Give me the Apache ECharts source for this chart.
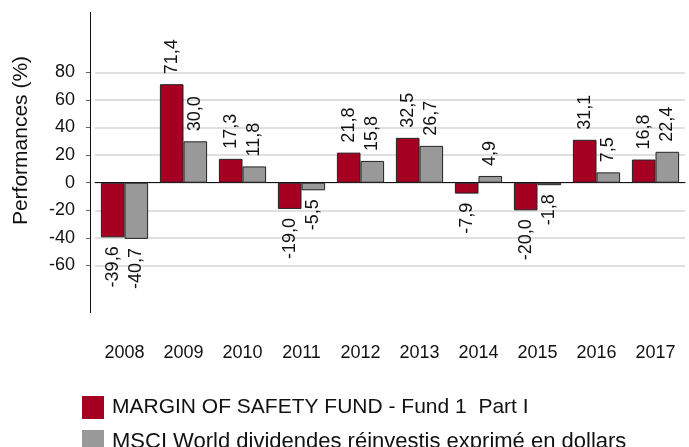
<!DOCTYPE html>
<html>
<head>
    <meta charset="UTF-8">
    <title></title>
    <script type="text/javascript" src="https://cdn.jsdelivr.net/npm/echarts@6/dist/echarts.min.js"></script>
    <style>
        html, body { margin: 0; padding: 0; background: #fff; }
        #main { width: 689px; height: 447px; }
    </style>
</head>
<body>
<div id="main"></div>
<script>
    var years = ['2008', '2009', '2010', '2011', '2012', '2013', '2014', '2015', '2016', '2017'];
    var fundValues = [-39.6, 71.4, 17.3, -19.0, 21.8, 32.5, -7.9, -20.0, 31.1, 16.8];
    var msciValues = [-40.7, 30.0, 11.8, -5.5, 15.8, 26.7, 4.9, -1.8, 7.5, 22.4];
    var yTicks = [-60, -40, -20, 0, 20, 40, 60, 80];
    var fundName = 'MARGIN OF SAFETY FUND - Fund 1  Part I';
    var msciName = 'MSCI World dividendes réinvestis exprimé en dollars';

    var font = 'Liberation Sans, Arial, sans-serif';

    // label above positive bars, below negative ones
    function withLabels(arr) {
        return arr.map(function (v) {
            return {
                value: v,
                label: {
                    position: v < 0 ? 'bottom' : 'top',
                    align: v < 0 ? 'right' : 'left',
                    distance: v < 0 ? 9 : 10
                }
            };
        });
    }

    var barLabel = {
        show: true,
        rotate: 90,
        verticalAlign: 'middle',
        fontSize: 18,
        fontFamily: font,
        color: '#111',
        formatter: function (p) {
            return p.value.toFixed(1).replace('.', ',');
        }
    };

    function legendFor(name, top, size) {
        return {
            left: 77,
            top: top,
            itemWidth: 22,
            itemHeight: 23,
            icon: 'rect',
            itemStyle: {borderWidth: 0},
            textStyle: {fontSize: size, color: '#111', fontFamily: font, padding: [0, 0, 0, 3]},
            data: [name]
        };
    }

    var myChart = echarts.init(document.getElementById('main'));
    myChart.setOption({
        animation: false,
        textStyle: {fontFamily: font},
        grid: {left: 95, right: 4, top: 12.3, bottom: 134.3, containLabel: false},
        legend: [legendFor(fundName, 391, 21), legendFor(msciName, 425, 22)],
        xAxis: [{
            type: 'category',
            data: years,
            position: 'bottom',
            axisLine: {onZero: true, lineStyle: {color: '#111', width: 1}},
            axisTick: {show: false},
            axisLabel: {show: false}
        }, {
            type: 'category',
            data: years,
            position: 'bottom',
            axisLine: {show: false, onZero: false},
            axisTick: {show: false},
            axisLabel: {margin: 31, fontSize: 18, color: '#111', fontFamily: font}
        }],
        yAxis: {
            type: 'value',
            min: -94.2,
            max: 123.5,
            offset: 5,
            name: 'Performances (%)',
            nameLocation: 'middle',
            nameRotate: 90,
            nameGap: 58,
            nameTextStyle: {fontSize: 21, color: '#111', fontFamily: font, padding: [0, 0, 0, 44]},
            axisLine: {show: true, lineStyle: {color: '#111', width: 1}},
            axisTick: {show: true, length: 4, customValues: yTicks, lineStyle: {color: '#666'}},
            axisLabel: {customValues: yTicks, margin: 15, fontSize: 18, color: '#111', fontFamily: font},
            splitLine: {show: true, lineStyle: {color: '#d6d6d6', width: 1.5}}
        },
        series: [{
            name: fundName,
            type: 'bar',
            barGap: 0,
            barCategoryGap: '20%',
            itemStyle: {color: '#a50021', borderColor: '#222', borderWidth: 1},
            label: barLabel,
            data: withLabels(fundValues)
        }, {
            name: msciName,
            type: 'bar',
            barGap: 0,
            barCategoryGap: '20%',
            itemStyle: {color: '#999999', borderColor: '#222', borderWidth: 1},
            label: barLabel,
            data: withLabels(msciValues)
        }]
    });
</script>
</body>
</html>
